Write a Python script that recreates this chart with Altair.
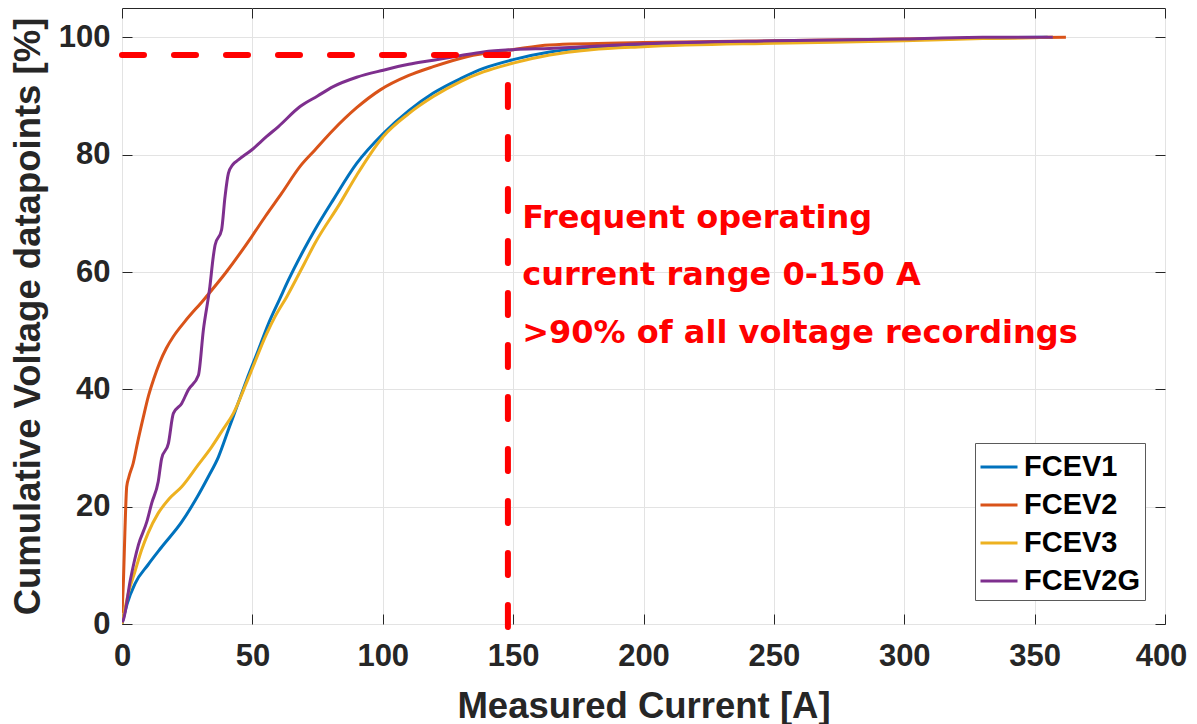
import altair as alt
import pandas as pd

# ---------------- data ----------------
series_names = ["FCEV1", "FCEV2", "FCEV3", "FCEV2G"]
series_colors = ["#0072BD", "#D95319", "#EDB120", "#7E2F8E"]

fcev1_x = [0, 2, 5, 10, 15, 22.9, 28, 33.1, 37, 40.8, 44, 47.8, 52.3, 56, 60.6, 63.8, 70, 74, 81, 90,
           100.2, 110, 119.4, 130, 138.6, 150, 164, 180, 200, 250, 300, 330, 355]
fcev1_y = [0, 3.5, 6.9, 10.1, 13, 17.4, 21, 25.1, 28.5, 33.1, 37, 41.6, 46.7, 51, 55.5, 58.6, 64, 67.2, 72.3, 78.5,
           83.6, 87.5, 90.5, 93, 94.7, 96.2, 97.5, 98.3, 98.8, 99.2, 99.6, 99.9, 100]

fcev2_x = [0, 0.6, 1.1, 1.8, 2.6, 4.3, 6, 8.2, 10.1, 12.2, 14.5, 17, 19.7, 24, 31.2, 40, 49.7, 55, 61.2, 68.3,
           74, 81, 90, 98.9, 110, 119.4, 132.2, 150, 164, 200, 250, 300, 330, 362]
fcev2_y = [1.8, 8, 15.5, 23.4, 25, 27.4, 31, 35.3, 38.8, 41.8, 44.6, 47, 49, 51.5, 55.2, 60, 66, 69.5, 73.4, 78,
           80.8, 84.2, 88, 91, 93.5, 95, 96.7, 97.9, 98.7, 99.1, 99.4, 99.7, 99.9, 100]

fcev3_x = [0, 2.4, 5, 7.5, 10, 13.9, 18, 22.9, 29, 34.4, 38.5, 42.7, 48.2, 55.5, 58.7, 63.2, 70, 74, 83.6, 90,
           100.2, 110, 119.4, 130, 138.6, 150, 164, 180, 200, 250, 300, 330, 357]
fcev3_y = [0, 5.2, 9, 12.6, 15.5, 18.9, 21.3, 23.4, 27, 30.2, 33, 35.9, 41.6, 49.5, 52.4, 55.8, 61.5, 64.9, 71.7, 76.5,
           83.1, 87, 89.9, 92.5, 94.1, 95.6, 97, 97.9, 98.4, 99.0, 99.4, 99.8, 100]

fcev2g_x = [0, 0.5, 3.2, 6.3, 9.5, 11.4, 13.9, 15.2, 17.8, 19.7, 22.9, 25.4, 29.3, 31.2, 33.7, 35, 35.7, 38.2,
            39.5, 40.8, 42.5, 44.6, 49.7, 55.5, 60, 68.3, 75, 81, 90, 100.2, 110, 119.4, 130, 138.6, 150, 164,
            200, 250, 300, 330, 357]
fcev2g_y = [0.3, 0.7, 7.5, 13.5, 17.4, 20.6, 24.3, 28.2, 30.8, 35.9, 37.6, 39.9, 42.4, 50.1, 57.5, 62.6, 64.6, 67.2,
            72.8, 76.8, 78.3, 79.1, 80.8, 83.1, 84.8, 88.2, 90, 91.6, 93.2, 94.4, 95.4, 96.1, 96.9, 97.5, 97.9, 98.1,
            98.9, 99.4, 99.7, 100, 100]

x_ticks = [0, 50, 100, 150, 200, 250, 300, 350, 400]
y_ticks = [0, 20, 40, 60, 80, 100]

guide_x = [0, 148, 148]
guide_y = [97, 97, -3]

ann_lines = ["Frequent operating", "current range 0-150 A", ">90% of all voltage recordings"]
ann_x = [153.5, 153.5, 153.5]
ann_y = [67.5, 57.8, 47.9]

# ---------------- tables ----------------
rows = []
for name, xs, ys in zip(series_names,
                        [fcev1_x, fcev2_x, fcev3_x, fcev2g_x],
                        [fcev1_y, fcev2_y, fcev3_y, fcev2g_y]):
    for i, (a, b) in enumerate(zip(xs, ys)):
        rows.append({"series": name, "current": a, "pct": b, "idx": i})
df = pd.DataFrame(rows)

guide_df = pd.DataFrame({"current": guide_x, "pct": guide_y, "idx": list(range(len(guide_x)))})
ann_df = pd.DataFrame({"current": ann_x, "pct": ann_y, "txt": ann_lines})

x_scale = alt.Scale(domain=[0, 400], nice=False, zero=False)
y_scale = alt.Scale(domain=[0, 105], nice=False, zero=False)

FONT = "Liberation Sans"
DARK = "#262626"

main_x_axis = alt.Axis(orient="bottom", values=x_ticks, title="Measured Current [A]", grid=True,
                       gridColor="#e3e3e3", ticks=False, domain=False, labelFont=FONT, labelFlush=False,
                       labelFontWeight="bold", labelFontSize=31, labelColor=DARK, labelPadding=17,
                       labelOffset={"condition": {"test": "datum.value === 400", "value": -4}, "value": 0},
                       titleFont=FONT, titleFontWeight="bold", titleFontSize=36.5, titleColor=DARK,
                       titlePadding=17)
main_y_axis = alt.Axis(orient="left", values=y_ticks, title="Cumulative Voltage datapoints [%]", grid=True,
                       gridColor="#e3e3e3", ticks=False, domain=False, labelFont=FONT, labelFlush=False,
                       labelFontWeight="bold", labelFontSize=31, labelColor=DARK, labelPadding=12,
                       titleFont=FONT, titleFontWeight="bold", titleFontSize=36.5, titleColor=DARK,
                       titlePadding=11)

lines = alt.Chart(df).mark_line(strokeWidth=3, clip=True, interpolate="monotone").encode(
    x=alt.X("current:Q", scale=x_scale, axis=main_x_axis),
    y=alt.Y("pct:Q", scale=y_scale, axis=main_y_axis),
    color=alt.Color("series:N", sort=series_names,
                    scale=alt.Scale(domain=series_names, range=series_colors),
                    legend=alt.Legend(title=None, orient="none", legendX=853, legendY=435,
                                      symbolType="stroke", symbolSize=1369, symbolStrokeWidth=3,
                                      labelFont=FONT, labelFontSize=29, labelFontWeight="bold",
                                      labelColor="black", strokeColor="#5a5a5a", fillColor="white",
                                      padding=4, rowPadding=3, labelOffset=5, labelLimit=300)),
    order="idx:Q",
)

guide = alt.Chart(guide_df).mark_line(color="#FF0000", strokeWidth=6, strokeDash=[22, 30],
                                      strokeCap="round", clip=False).encode(
    x=alt.X("current:Q", scale=x_scale, axis=None),
    y=alt.Y("pct:Q", scale=y_scale, axis=None),
    order="idx:Q",
)

ann = alt.Chart(ann_df).mark_text(align="left", baseline="alphabetic", font="DejaVu Sans",
                                  fontWeight="bold", fontSize=32, color="#FF0000").encode(
    x=alt.X("current:Q", scale=x_scale, axis=None),
    y=alt.Y("pct:Q", scale=y_scale, axis=None),
    text="txt:N",
)


def tick_layer(xo, yo):
    return alt.Chart(df).mark_point(opacity=0).encode(
        x=alt.X("current:Q", scale=x_scale,
                axis=alt.Axis(orient=xo, values=x_ticks, offset=-10, tickSize=10, tickColor=DARK,
                              labels=False, domain=False, grid=False, title=None)),
        y=alt.Y("pct:Q", scale=y_scale,
                axis=alt.Axis(orient=yo, values=y_ticks, offset=-10, tickSize=10, tickColor=DARK,
                              labels=False, domain=False, grid=False, title=None)),
    )


chart = alt.layer(lines, tick_layer("bottom", "left"), tick_layer("top", "right"), guide, ann).resolve_axis(
    x="independent", y="independent"
).properties(
    width=1043, height=616,
    autosize=alt.AutoSizeParams(type="none"),
    padding={"left": 114, "top": 0, "right": 24, "bottom": 100},
).configure_view(stroke=DARK, strokeWidth=1)

chart.save("out.html", embed_options={"renderer": "svg", "actions": False})
